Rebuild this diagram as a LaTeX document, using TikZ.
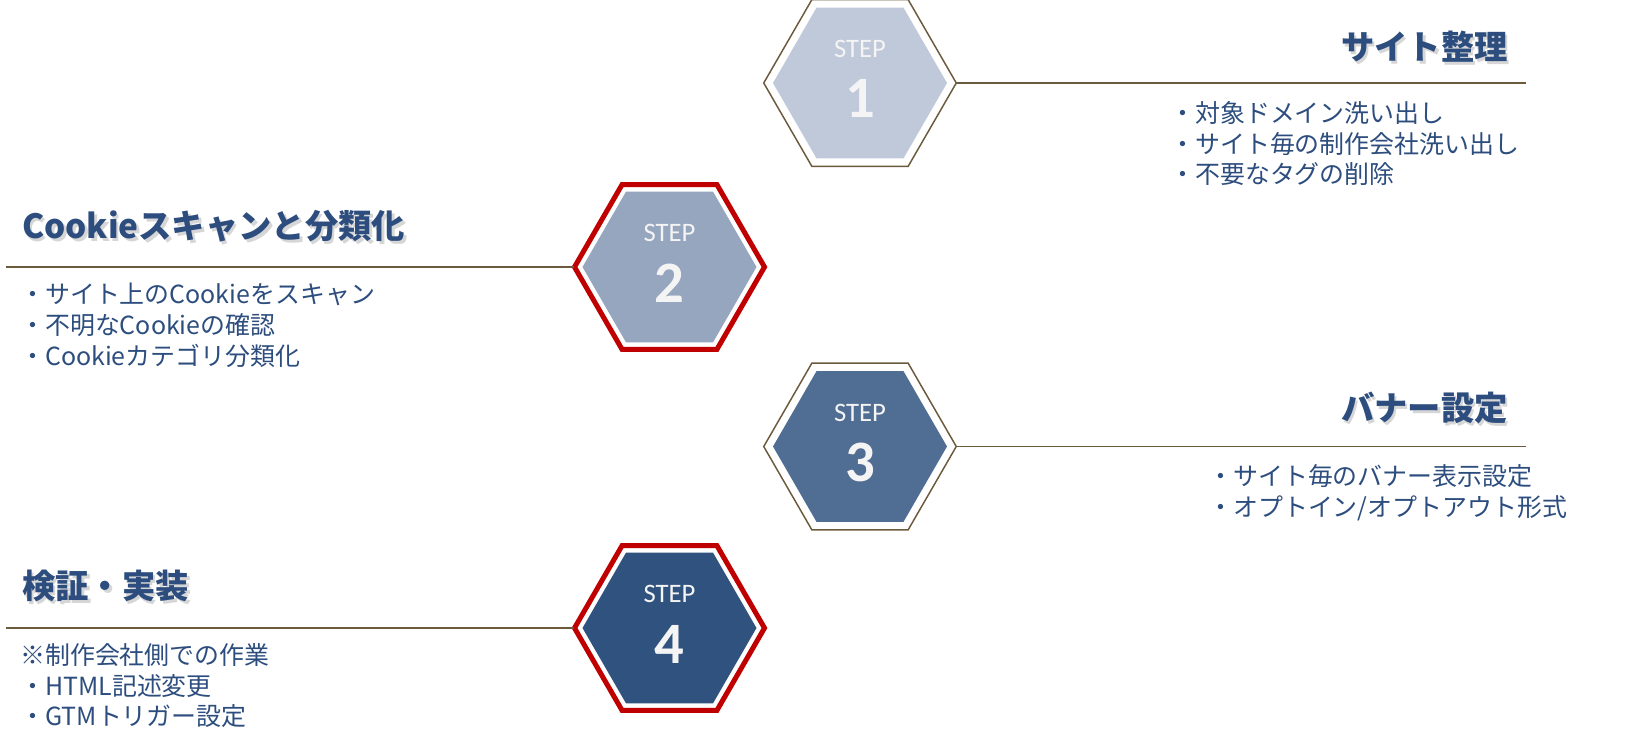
\documentclass[tikz,border=0pt]{standalone}
\usepackage{fontspec}
\usepackage{tikz}
\usetikzlibrary{shapes.geometric}
\setmainfont{Noto Sans CJK JP}
\newfontfamily\stepfont{Carlito}

\definecolor{hexA}{HTML}{BFC9DA}
\definecolor{hexB}{HTML}{95A6BE}
\definecolor{hexC}{HTML}{506D93}
\definecolor{hexD}{HTML}{30527F}
\definecolor{frameBrown}{HTML}{6B5A3C}
\definecolor{frameRed}{HTML}{C00000}
\definecolor{ttlBlue}{HTML}{2C4D7D}
\definecolor{stepWhite}{HTML}{F4F4F4}

\tikzset{
  hexframe/.style = {regular polygon, regular polygon sides=6, inner sep=0pt, outer sep=0pt, fill=white},
  plainframe/.style = {hexframe, draw=frameBrown, line width=1.1pt, minimum size=144.4pt},
  redframe/.style = {hexframe, draw=frameRed, line width=3.75pt, minimum size=142.5pt},
  hexfill/.style = {regular polygon, regular polygon sides=6, inner sep=0pt, minimum size=130.5pt},
  steplbl/.style = {text=stepWhite, font=\stepfont\fontsize{20}{20}\selectfont, inner sep=0pt},
  stepnum/.style = {text=stepWhite, font=\stepfont\bfseries\fontsize{44}{44}\selectfont, inner sep=0pt},
  ttl/.style = {text=ttlBlue, font=\bfseries\fontsize{25}{25}\selectfont, inner sep=0pt},
  ttlshadow/.style = {ttl, text=black!40, opacity=0.4},
  items/.style = {text=ttlBlue, align=left, anchor=north west, inner sep=0pt, font=\fontsize{18.7}{23.1}\selectfont},
  rule/.style = {draw=frameBrown, line width=1pt}
}

\begin{document}
\begin{tikzpicture}[x=0.75pt, y=-0.75pt]
    \useasboundingbox (0,0) rectangle (1647,750);

    \node[plainframe] (sA) at (860,83) {};
    \node[hexfill, fill=hexA] (fA) at (860,83) {};
    \node[steplbl] (pA) at (860,49) {STEP};
    \node[stepnum] (nA) at (860,98) {1};

    \node[redframe] (sB) at (669.5,267) {};
    \node[hexfill, fill=hexB] (fB) at (669.5,267) {};
    \node[steplbl] (pB) at (669.5,233) {STEP};
    \node[stepnum] (nB) at (669.5,283) {2};

    \node[plainframe] (sC) at (860,446.5) {};
    \node[hexfill, fill=hexC] (fC) at (860,446.5) {};
    \node[steplbl] (pC) at (860,412.5) {STEP};
    \node[stepnum] (nC) at (860,462.5) {3};

    \node[redframe] (sD) at (669.5,628) {};
    \node[hexfill, fill=hexD] (fD) at (669.5,628) {};
    \node[steplbl] (pD) at (669.5,594) {STEP};
    \node[stepnum] (nD) at (669.5,644) {4};

    \coordinate (lA) at (1526,83);
    \coordinate (lB) at (6,267);
    \coordinate (lC) at (1526,446.5);
    \coordinate (lD) at (6,628);

    \draw[rule] (sA.east) -- (lA);
    \draw[rule] (lB) -- (sB.west);
    \draw[rule] (sC.east) -- (lC);
    \draw[rule] (lD) -- (sD.west);

    \node[ttlshadow, anchor=east] (hA) at (1510.5,50) {サイト整理};
    \node[ttl, anchor=east] (tA) at (1508,47) {サイト整理};
    \node[ttlshadow, anchor=west] (hB) at (24.5,229) {Cookieスキャンと分類化};
    \node[ttl, anchor=west] (tB) at (22,226) {Cookieスキャンと分類化};
    \node[ttlshadow, anchor=east] (hC) at (1510.5,411) {バナー設定};
    \node[ttl, anchor=east] (tC) at (1508,408) {バナー設定};
    \node[ttlshadow, anchor=west] (hD) at (24.5,589) {検証・実装};
    \node[ttl, anchor=west] (tD) at (22,586) {検証・実装};

    \node[items] (iA) at (1170,101) {・対象ドメイン洗い出し\\・サイト毎の制作会社洗い出し\\・不要なタグの削除};
    \node[items] (iB) at (20,283) {・サイト上のCookieをスキャン\\・不明なCookieの確認\\・Cookieカテゴリ分類化};
    \node[items] (iC) at (1208,464) {・サイト毎のバナー表示設定\\・オプトイン/オプトアウト形式};
    \node[items] (iD) at (20,643) {※制作会社側での作業\\・HTML記述変更\\・GTMトリガー設定};
\end{tikzpicture}
\end{document}
